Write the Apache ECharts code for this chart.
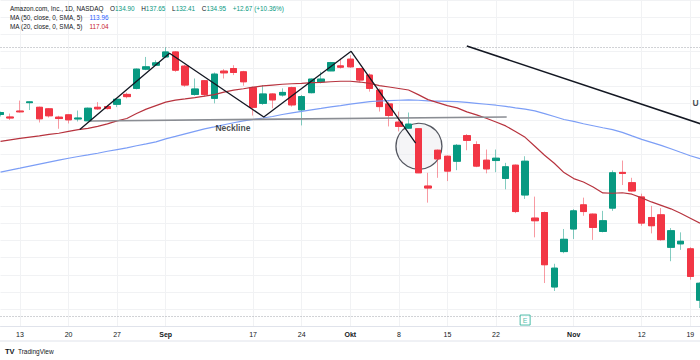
<!DOCTYPE html>
<html><head><meta charset="utf-8">
<script src="https://cdn.jsdelivr.net/npm/echarts@6/dist/echarts.min.js"></script>
<style>html,body{margin:0;padding:0;background:#fff}#c{width:700px;height:360px}</style>
</head><body><div id="c"></div>
<script>
const dates = ['2018-08-09','2018-08-10','2018-08-13','2018-08-14','2018-08-15','2018-08-16','2018-08-17','2018-08-20','2018-08-21','2018-08-22','2018-08-23','2018-08-24','2018-08-27','2018-08-28','2018-08-29','2018-08-30','2018-08-31',
'2018-09-04','2018-09-05','2018-09-06','2018-09-07','2018-09-10','2018-09-11','2018-09-12','2018-09-13','2018-09-14','2018-09-17','2018-09-18','2018-09-19','2018-09-20','2018-09-21','2018-09-24','2018-09-25','2018-09-26','2018-09-27','2018-09-28',
'2018-10-01','2018-10-02','2018-10-03','2018-10-04','2018-10-05','2018-10-08','2018-10-09','2018-10-10','2018-10-11','2018-10-12','2018-10-15','2018-10-16','2018-10-17','2018-10-18','2018-10-19','2018-10-22','2018-10-23','2018-10-24','2018-10-25','2018-10-26','2018-10-29','2018-10-30','2018-10-31',
'2018-11-01','2018-11-02','2018-11-05','2018-11-06','2018-11-07','2018-11-08','2018-11-09','2018-11-12','2018-11-13','2018-11-14','2018-11-15','2018-11-16','2018-11-19','2018-11-20'];

const open = [94.67,94.38,95.07,96.05,95.51,95.33,94.36,94.63,94.15,93.94,
95.51,95.59,95.86,97.01,97.71,99.95,100.41,101.37,101.95,100.30,
97.01,98.60,96.55,99.72,100.02,99.64,97.79,95.97,97.06,96.94,
97.79,95.21,97.21,98.48,99.75,100.33,101.11,100.02,99.26,97.51,
95.90,93.78,93.08,93.01,86.34,90.51,89.81,89.23,92.21,91.17,
89.35,89.31,87.23,88.77,85.30,82.61,83.26,74.59,78.71,81.34,
84.15,83.07,81.06,83.77,87.93,86.73,85.07,82.68,82.99,79.21,
79.61,79.03,73.05];
const close = [94.90,94.26,94.98,96.14,94.17,94.52,94.20,94.05,94.26,95.40,
95.33,95.36,96.44,96.75,99.95,100.22,100.68,101.95,99.83,98.10,
97.64,97.01,99.37,99.52,99.56,98.48,95.51,97.06,96.37,97.24,
95.79,96.75,98.79,98.79,100.71,100.18,100.22,98.68,97.71,95.59,
94.55,93.28,93.55,87.88,86.11,89.50,88.08,91.08,91.66,88.66,
88.34,89.58,88.58,83.37,89.23,82.30,77.18,76.78,80.14,83.45,
83.37,81.52,82.30,87.88,87.81,85.77,82.03,81.72,80.10,81.14,
79.91,75.82,75.02];
const low = [94.44,94.03,94.90,95.19,93.74,94.32,93.01,93.63,93.86,93.92,
95.21,95.25,95.53,96.55,97.59,99.83,100.33,101.29,99.64,97.90,
96.86,96.75,95.97,98.86,99.26,98.02,94.55,95.79,95.40,96.75,
95.59,93.40,97.13,98.29,99.72,100.02,100.10,98.48,97.33,95.01,
93.28,92.70,93.01,87.85,84.41,87.30,86.92,88.19,90.51,88.54,
87.82,87.96,85.96,83.19,84.84,80.37,75.05,74.12,78.52,80.18,
82.88,80.07,80.95,83.45,86.46,85.69,81.72,80.83,79.99,77.59,
78.91,75.44,72.13];
const high = [95.01,94.78,96.29,96.17,95.59,95.42,94.52,94.67,95.13,95.48,
96.11,95.79,96.52,97.21,100.02,101.37,100.99,102.53,102.03,100.45,
98.86,98.68,99.56,99.95,100.41,99.75,97.90,98.10,97.13,97.71,
97.90,96.94,98.86,99.64,100.79,101.18,101.57,100.10,99.46,97.71,
96.17,95.01,94.90,93.05,87.88,90.59,89.89,91.23,92.39,91.55,
90.59,90.59,89.04,88.85,89.81,85.11,83.37,77.29,81.34,83.65,
84.99,83.14,83.45,88.16,89.31,87.30,85.45,84.03,83.77,81.45,
80.95,79.21,75.13];
const ma20 = [91.55,91.72,91.89,92.04,92.18,92.36,92.49,92.70,92.90,93.05,
93.28,93.57,93.92,94.20,94.78,95.30,95.71,96.11,96.34,96.48,
96.63,96.81,96.98,97.27,97.50,97.67,97.85,98.00,98.10,98.19,
98.25,98.29,98.37,98.42,98.48,98.54,98.54,98.45,98.29,98.04,
97.87,97.70,97.52,96.98,96.40,96.05,95.71,95.44,94.98,94.63,
94.23,93.80,93.34,92.70,92.01,90.97,89.93,89.00,87.91,87.21,
86.81,86.23,85.54,85.50,85.56,85.39,84.96,84.49,84.09,83.69,
83.17,82.59,82.01];
const ma50 = [87.96,88.19,88.42,88.66,88.89,89.12,89.35,89.58,89.78,89.96,
90.16,90.39,90.59,90.79,91.03,91.25,91.49,91.84,92.12,92.41,
92.70,92.99,93.22,93.48,93.71,93.92,94.09,94.26,94.44,94.67,
94.86,95.04,95.21,95.38,95.56,95.71,95.88,96.03,96.17,96.24,
96.29,96.33,96.37,96.33,96.26,96.23,96.20,96.17,96.08,95.97,
95.86,95.75,95.62,95.44,95.29,95.09,94.78,94.44,94.09,93.86,
93.59,93.36,93.13,92.91,92.59,92.18,91.78,91.43,91.08,90.68,
90.27,89.87,89.52];

const tickDates = ['2018-08-13','2018-08-20','2018-08-27','2018-09-04','2018-09-17','2018-09-24','2018-10-01','2018-10-08','2018-10-15','2018-10-22','2018-11-01','2018-11-12','2018-11-19'];
const tickLabels = ['13','20','27','Sep','17','24','Okt','8','15','22','Nov','12','19'];
const monthLabels = ['Sep','Okt','Nov'];

// drawings (bar index, price)
const patternX = [8.16, 17.4, 27.1, 36.09, 42.73];
const patternY = [92.93, 101.8, 94.38, 102.03, 91.35];
const necklineX = [9.19, 52.1];
const necklineY = [93.92, 94.38];
const trendX = [48.0, 73];
const trendY = [102.64, 93.24];
const circleX = 43.07, circleY = 90.97;
const necklineLabel = [23.92, 93.05];
const uLabel = [71.55, 96.05];
const rangeHigh = 102.53, rangeLow = 71.20;
const earningsDate = '2018-10-25', earningsY = 70.74;

const UP = '#089981', DOWN = '#f23645';
const tickIdx = new Set(tickDates.map(d => dates.indexOf(d)));

const full = dates.map((d, i) => [open[i], close[i], low[i], high[i]]);
const bodies = dates.map((d, i) => [open[i], close[i], Math.min(open[i], close[i]), Math.max(open[i], close[i])]);
const pairs = (xs, ys) => xs.map((x, i) => [x, ys[i]]);

const FONT = '"Liberation Sans", Arial, sans-serif';
const chart = echarts.init(document.getElementById('c'), null, {renderer: 'svg'});
chart.setOption({
  animation: false,
  backgroundColor: '#ffffff',
  textStyle: {fontFamily: FONT},
  grid: {left: 0.52, width: 701.28, top: -2.34, height: 328.74, containLabel: false},
  xAxis: [{
    type: 'category', data: dates, boundaryGap: false,
    axisLine: {show: true, lineStyle: {color: '#e0e3eb', width: 1}},
    axisTick: {show: false},
    axisLabel: {
      interval: (idx) => tickIdx.has(idx), margin: 5, fontSize: 7, color: '#131722', fontFamily: FONT,
      formatter: (v) => {
        const k = tickDates.indexOf(v);
        if (k < 0) return '';
        const t = tickLabels[k];
        return monthLabels.includes(t) ? '{b|' + t + '}' : t;
      },
      rich: {b: {fontWeight: 'bold', fontSize: 7, color: '#131722', fontFamily: FONT}}
    },
    splitLine: {show: true, interval: (idx) => tickIdx.has(idx), lineStyle: {color: '#f1f2f4', width: 1}}
  }, {
    type: 'value', min: 0, max: 72, show: false
  }],
  yAxis: [{
    type: 'value', min: 70, max: 108, interval: 2, scale: true,
    axisLabel: {show: false}, axisLine: {show: false}, axisTick: {show: false},
    splitLine: {show: true, lineStyle: {color: '#f1f2f4', width: 1}}
  }],
  series: [
    {
      type: 'scatter', name: 'circle', xAxisIndex: 1, z: 1, silent: true,
      data: [[circleX, circleY]], symbol: 'circle', symbolSize: 46,
      itemStyle: {color: 'rgba(232,233,236,0.55)', borderColor: '#2a2e39', borderWidth: 1.3}
    },
    {
      type: 'candlestick', name: 'wicks', data: full, barWidth: 7, z: 2,
      itemStyle: {color: 'rgba(8,153,129,0.5)', color0: 'rgba(242,54,69,0.5)', borderColor: 'rgba(8,153,129,0.5)', borderColor0: 'rgba(242,54,69,0.5)', borderWidth: 1}
    },
    {
      type: 'candlestick', name: 'bodies', data: bodies, barWidth: 7, z: 3,
      itemStyle: {color: UP, color0: DOWN, borderColor: UP, borderColor0: DOWN, borderWidth: 1}
    },
    {
      type: 'line', name: 'MA50', data: ma50, symbol: 'none', z: 4,
      lineStyle: {color: '#7c9ef6', width: 1.2}
    },
    {
      type: 'line', name: 'MA20', data: ma20, symbol: 'none', z: 4,
      lineStyle: {color: '#b7333e', width: 1.2}
    },
    {
      type: 'line', name: 'neckline', xAxisIndex: 1, data: pairs(necklineX, necklineY), symbol: 'none', z: 5,
      lineStyle: {color: '#8a8d93', width: 1.6},
      markLine: {
        silent: true, symbol: 'none', label: {show: false},
        lineStyle: {color: '#a3a6ad', type: [1, 2], width: 1},
        data: [{yAxis: rangeHigh}, {yAxis: rangeLow}]
      }
    },
    {
      type: 'line', name: 'pattern', xAxisIndex: 1, data: pairs(patternX, patternY), symbol: 'none', z: 6,
      lineStyle: {color: '#131722', width: 1.3}
    },
    {
      type: 'line', name: 'trend', xAxisIndex: 1, data: pairs(trendX, trendY), symbol: 'none', z: 6,
      lineStyle: {color: '#131722', width: 1.6}
    },
    {
      type: 'scatter', name: 'labels', xAxisIndex: 1, z: 7, silent: true,
      data: [{value: necklineLabel, name: 'Neckline'}, {value: uLabel, name: 'U'}],
      symbolSize: 1, itemStyle: {color: 'transparent'},
      label: {show: true, position: 'inside', formatter: '{b}', fontSize: 8.5, fontWeight: 'bold', color: '#131722', fontFamily: FONT}
    },
    {
      type: 'scatter', name: 'earnings', z: 7, silent: true, clip: false,
      data: [[earningsDate, earningsY]], symbol: 'rect', symbolSize: [10, 10],
      itemStyle: {color: '#ffffff', borderColor: '#22ab94', borderWidth: 1},
      label: {show: true, position: 'inside', formatter: 'E', fontSize: 7, color: '#22ab94', fontFamily: FONT}
    }
  ],
  graphic: [
    {type: 'text', left: 10, top: 2, z: 10, style: {
      text: '{n|Amazon.com, Inc., 1D, NASDAQ}  {k|O}{v|134.90}  {k|H}{v|137.65}  {k|L}{v|132.41}  {k|C}{v|134.95}  {v|+12.67 (+10.36%)}',
      rich: {
        n: {fontSize: 6.4, fill: '#131722', fontFamily: FONT},
        k: {fontSize: 6.4, fill: '#131722', fontFamily: FONT},
        v: {fontSize: 6.4, fill: '#089981', fontFamily: FONT}
      }}},
    {type: 'text', left: 10, top: 11, z: 10, style: {
      text: '{n|MA (50, close, 0, SMA, 5)}  {v|113.96}',
      rich: {n: {fontSize: 6.4, fill: '#131722', fontFamily: FONT}, v: {fontSize: 6.4, fill: '#2962ff', fontFamily: FONT}}}},
    {type: 'text', left: 10, top: 20, z: 10, style: {
      text: '{n|MA (20, close, 0, SMA, 5)}  {v|117.04}',
      rich: {n: {fontSize: 6.4, fill: '#131722', fontFamily: FONT}, v: {fontSize: 6.4, fill: '#c8232f', fontFamily: FONT}}}},
    {type: 'line', z: 10, shape: {x1: 0, y1: 341, x2: 700, y2: 341}, style: {stroke: '#e0e3eb', lineWidth: 1}},
    {type: 'text', left: 5, top: 345, z: 10, style: {
      text: '{l|TV} {t|TradingView}',
      rich: {l: {fontSize: 7.5, fontWeight: 'bold', fill: '#131722', fontFamily: FONT}, t: {fontSize: 6.5, fill: '#131722', fontFamily: FONT}}}}
  ]
});
</script>
</body></html>
